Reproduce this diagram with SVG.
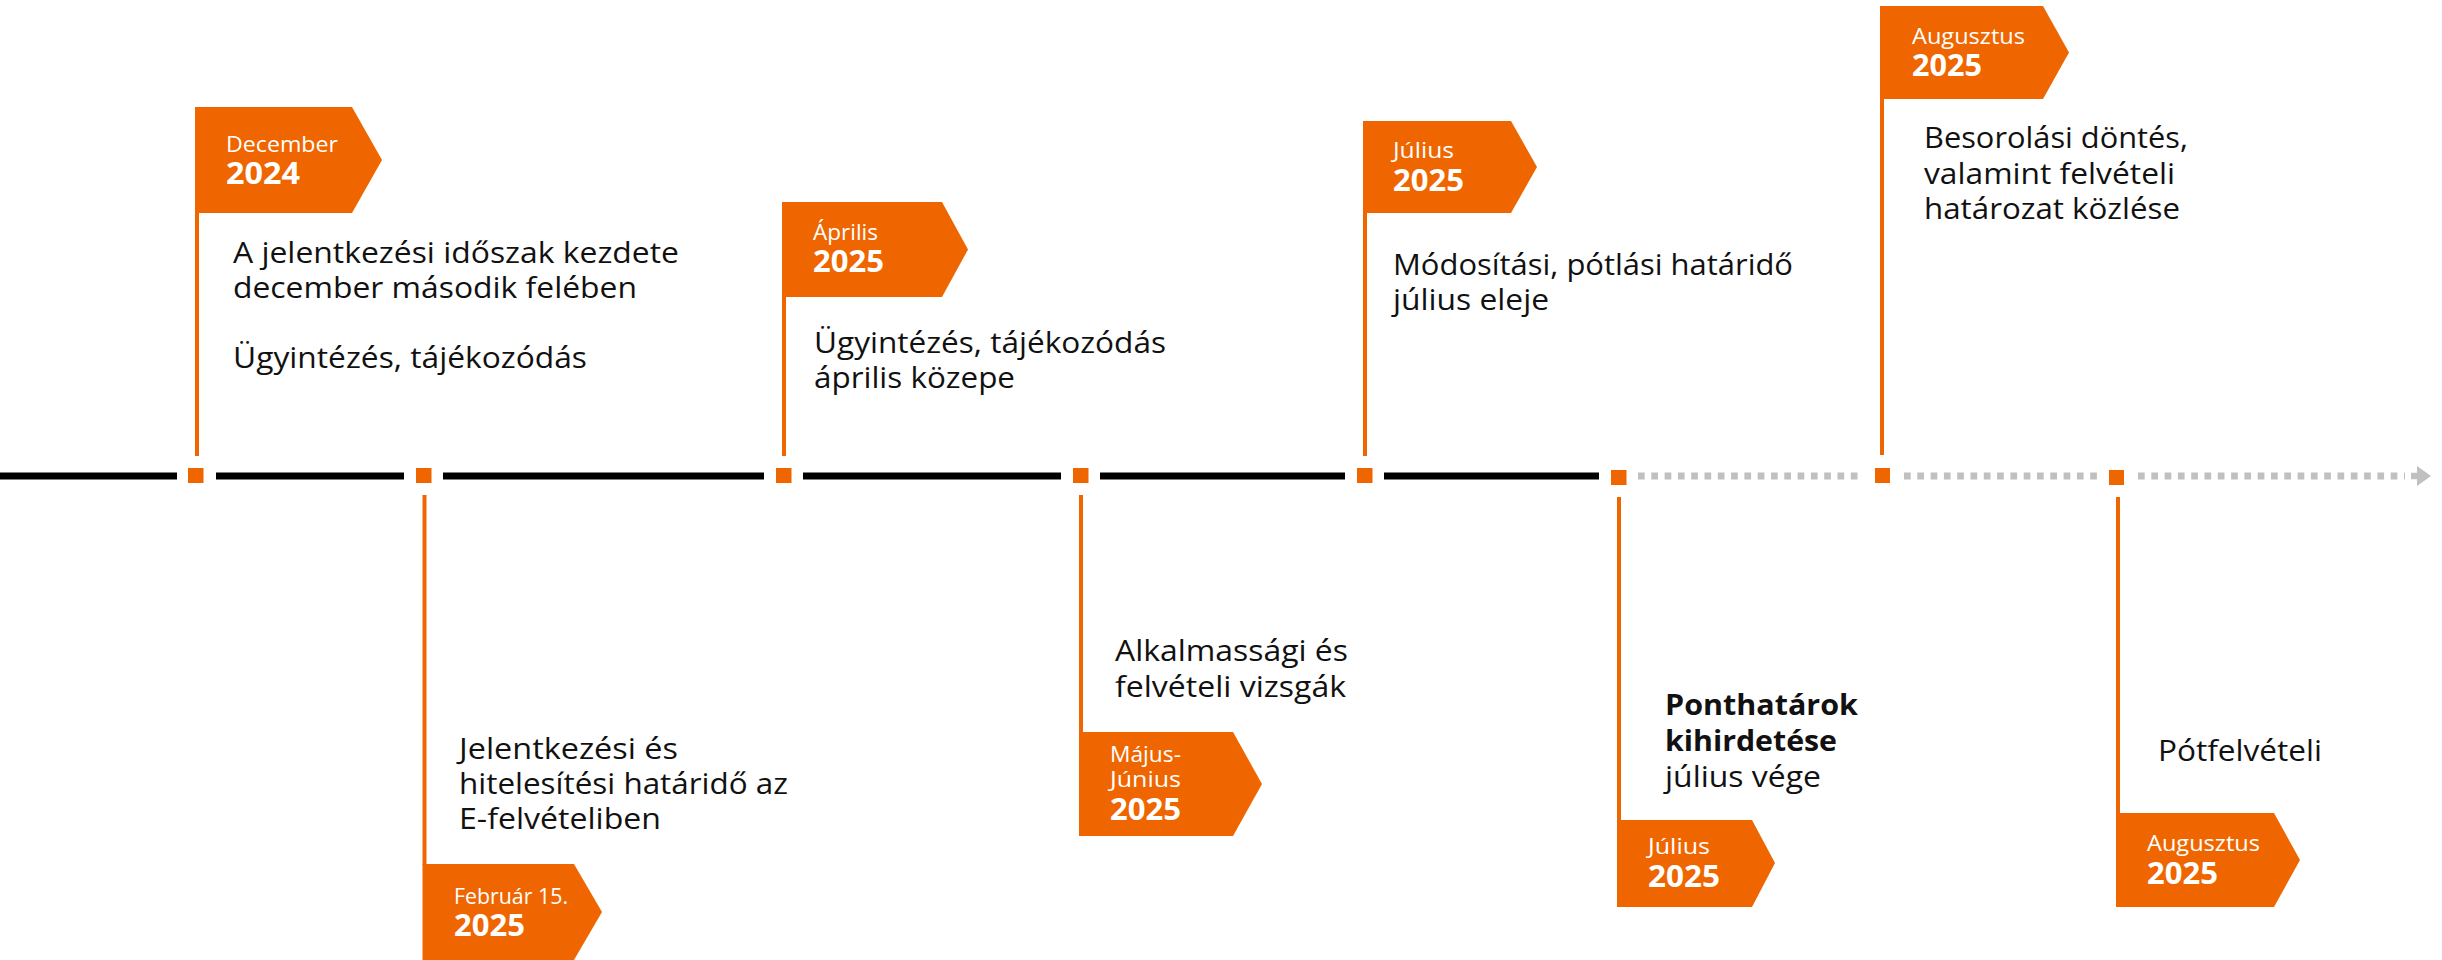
<svg xmlns="http://www.w3.org/2000/svg" width="2442" height="960" viewBox="0 0 2442 960">
<style>
.flag{fill:#EF6600}
.pole{fill:#EF6600}
.sq{fill:#EF6600}
.mon{font-family:"Open Sans","Liberation Sans",sans-serif;font-size:22px;fill:#ffffff;font-weight:400}
.yr{font-family:"Open Sans","Liberation Sans",sans-serif;font-size:30px;fill:#ffffff;font-weight:700}
.body{font-family:"Open Sans","Liberation Sans",sans-serif;font-size:29px;fill:#111111;font-weight:400}
.bold{font-weight:700}
.solid{stroke:#000000;stroke-width:7;fill:none}
.dash{stroke:#C0C0C0;stroke-width:7;fill:none;stroke-dasharray:6.7 6.6}
</style>
<rect width="2442" height="960" fill="#ffffff"/>
<g id="connectors">
<line class="solid" x1="0" y1="476" x2="177" y2="476"/>
<line class="solid" x1="216" y1="476" x2="404" y2="476"/>
<line class="solid" x1="443" y1="476" x2="764" y2="476"/>
<line class="solid" x1="803" y1="476" x2="1061" y2="476"/>
<line class="solid" x1="1100" y1="476" x2="1345" y2="476"/>
<line class="solid" x1="1384" y1="476" x2="1599" y2="476"/>
<line class="dash" x1="1638" y1="476" x2="1858" y2="476"/>
<line class="dash" x1="1904" y1="476" x2="2097" y2="476"/>
<line class="dash" x1="2138" y1="476" x2="2405" y2="476"/>
<path d="M2411,472.7 H2417 V466 L2431,476 L2417,486 V479.3 H2411 Z" fill="#C0C0C0"/>
</g>
<g id="node-dec-2024">
<rect class="sq" x="188" y="468" width="15.5" height="15"/>
<rect class="pole" x="195" y="107" width="4" height="349"/>
<polygon class="flag" points="195,107 352,107 382,160 352,213 195,213"/>
<text class="mon" x="226" y="152" textLength="112" lengthAdjust="spacingAndGlyphs">December</text>
<text class="yr" x="226" y="184" textLength="74" lengthAdjust="spacingAndGlyphs">2024</text>
<text class="body" x="233" y="263" textLength="446" lengthAdjust="spacingAndGlyphs">A jelentkezési időszak kezdete</text>
<text class="body" x="233" y="298" textLength="404" lengthAdjust="spacingAndGlyphs">december második felében</text>
<text class="body" x="233" y="368" textLength="354" lengthAdjust="spacingAndGlyphs">Ügyintézés, tájékozódás</text>
</g>
<g id="node-feb-2025">
<rect class="sq" x="416" y="468" width="15.5" height="15"/>
<rect class="pole" x="422.5" y="495" width="4" height="370"/>
<polygon class="flag" points="422.5,864 574,864 602,912 574,960 422.5,960"/>
<text class="mon" x="454" y="904" textLength="114" lengthAdjust="spacingAndGlyphs">Február 15.</text>
<text class="yr" x="454" y="936" textLength="71" lengthAdjust="spacingAndGlyphs">2025</text>
<text class="body" x="459" y="759" textLength="219" lengthAdjust="spacingAndGlyphs">Jelentkezési és</text>
<text class="body" x="459" y="794" textLength="329" lengthAdjust="spacingAndGlyphs">hitelesítési határidő az</text>
<text class="body" x="459" y="829" textLength="202" lengthAdjust="spacingAndGlyphs">E-felvételiben</text>
</g>
<g id="node-apr-2025">
<rect class="sq" x="776" y="468" width="15.5" height="15"/>
<rect class="pole" x="782" y="202" width="4" height="254"/>
<polygon class="flag" points="782,202 942,202 968,249.5 942,297 782,297"/>
<text class="mon" x="813" y="240" textLength="65" lengthAdjust="spacingAndGlyphs">Április</text>
<text class="yr" x="813" y="272" textLength="71" lengthAdjust="spacingAndGlyphs">2025</text>
<text class="body" x="814" y="353" textLength="352" lengthAdjust="spacingAndGlyphs">Ügyintézés, tájékozódás</text>
<text class="body" x="814" y="388" textLength="201" lengthAdjust="spacingAndGlyphs">április közepe</text>
</g>
<g id="node-maj-jun-2025">
<rect class="sq" x="1073" y="468" width="15.5" height="15"/>
<rect class="pole" x="1079" y="495" width="4" height="240"/>
<polygon class="flag" points="1079,732 1233,732 1262,784 1233,836 1079,836"/>
<text class="mon" x="1110" y="762" textLength="71" lengthAdjust="spacingAndGlyphs">Május-</text>
<text class="mon" x="1110" y="787" textLength="71" lengthAdjust="spacingAndGlyphs">Június</text>
<text class="yr" x="1110" y="820" textLength="71" lengthAdjust="spacingAndGlyphs">2025</text>
<text class="body" x="1115" y="661" textLength="233" lengthAdjust="spacingAndGlyphs">Alkalmassági és</text>
<text class="body" x="1115" y="697" textLength="231" lengthAdjust="spacingAndGlyphs">felvételi vizsgák</text>
</g>
<g id="node-jul-2025-top">
<rect class="sq" x="1357" y="468" width="15.5" height="15"/>
<rect class="pole" x="1363" y="121" width="4" height="335"/>
<polygon class="flag" points="1363,121 1511,121 1537,167 1511,213 1363,213"/>
<text class="mon" x="1393" y="158" textLength="61" lengthAdjust="spacingAndGlyphs">Július</text>
<text class="yr" x="1393" y="191" textLength="71" lengthAdjust="spacingAndGlyphs">2025</text>
<text class="body" x="1393" y="275" textLength="400" lengthAdjust="spacingAndGlyphs">Módosítási, pótlási határidő</text>
<text class="body" x="1393" y="310" textLength="156" lengthAdjust="spacingAndGlyphs">július eleje</text>
</g>
<g id="node-jul-2025-bottom">
<rect class="sq" x="1611" y="470" width="15.5" height="15"/>
<rect class="pole" x="1617" y="497" width="4" height="326"/>
<polygon class="flag" points="1617,820 1752,820 1775,863 1752,907 1617,907"/>
<text class="mon" x="1648" y="854" textLength="62" lengthAdjust="spacingAndGlyphs">Július</text>
<text class="yr" x="1648" y="887" textLength="72" lengthAdjust="spacingAndGlyphs">2025</text>
<text class="body bold" x="1665" y="715" textLength="193" lengthAdjust="spacingAndGlyphs">Ponthatárok</text>
<text class="body bold" x="1665" y="751" textLength="172" lengthAdjust="spacingAndGlyphs">kihirdetése</text>
<text class="body" x="1665" y="787" textLength="156" lengthAdjust="spacingAndGlyphs">július vége</text>
</g>
<g id="node-aug-2025-top">
<rect class="sq" x="1875" y="468" width="15" height="15"/>
<rect class="pole" x="1880" y="6" width="4" height="449"/>
<polygon class="flag" points="1880,6 2043,6 2069,52.5 2043,99 1880,99"/>
<text class="mon" x="1912" y="44" textLength="113" lengthAdjust="spacingAndGlyphs">Augusztus</text>
<text class="yr" x="1912" y="76" textLength="70" lengthAdjust="spacingAndGlyphs">2025</text>
<text class="body" x="1924" y="148" textLength="264" lengthAdjust="spacingAndGlyphs">Besorolási döntés,</text>
<text class="body" x="1924" y="184" textLength="251" lengthAdjust="spacingAndGlyphs">valamint felvételi</text>
<text class="body" x="1924" y="219" textLength="256" lengthAdjust="spacingAndGlyphs">határozat közlése</text>
</g>
<g id="node-aug-2025-bottom">
<rect class="sq" x="2109" y="470" width="15" height="15"/>
<rect class="pole" x="2116" y="497" width="4" height="320"/>
<polygon class="flag" points="2116,813 2274,813 2300,860 2274,907 2116,907"/>
<text class="mon" x="2147" y="851" textLength="113" lengthAdjust="spacingAndGlyphs">Augusztus</text>
<text class="yr" x="2147" y="884" textLength="71" lengthAdjust="spacingAndGlyphs">2025</text>
<text class="body" x="2158" y="761" textLength="164" lengthAdjust="spacingAndGlyphs">Pótfelvételi</text>
</g>
</svg>
